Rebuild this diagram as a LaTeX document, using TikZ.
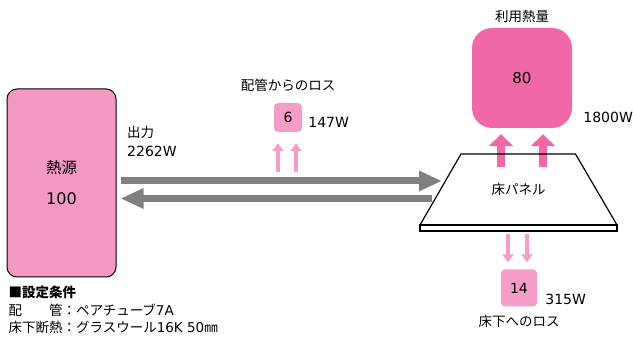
\documentclass[tikz,border=0pt]{standalone}
\usepackage{fontspec}
\setmainfont{Noto Sans CJK JP}
\newfontfamily\numfont{DejaVu Sans}
\usetikzlibrary{arrows.meta,positioning}

\definecolor{srcpink}{HTML}{F49AC2}
\definecolor{usepink}{HTML}{F068A5}
\definecolor{losspink}{HTML}{F59DC6}
\definecolor{flowgray}{HTML}{808080}

\begin{document}
\begin{tikzpicture}[
        x=1pt, y=1pt,
        node distance=4pt and 4pt,
        every node/.style={align=center, font=\fontsize{13.5}{16}\selectfont},
        label/.style={inner sep=1pt},
        num/.style={inner sep=1pt, font=\numfont\fontsize{14}{16}\selectfont},
        lossbox/.style={rounded corners=4pt, fill=losspink, minimum width=28pt, minimum height=29pt, font=\numfont\fontsize{14}{16}\selectfont},
        panelline/.style={line width=1.2pt, line join=miter},
        flow/.style={line width=7pt, draw=flowgray, -{Triangle[length=23pt, width=19pt]}},
        heat/.style={line width=8pt, draw=usepink, -{Triangle[length=12pt, width=24pt]}},
        loss/.style={line width=4pt, draw=losspink, -{Triangle[length=8pt, width=11pt]}}
    ]
  \useasboundingbox (0,0) rectangle (633,338);

  % Nodes
  \node (src) [draw, line width=1pt, rounded corners=10pt, fill=srcpink, minimum width=109pt, minimum height=188pt, font=\fontsize{15.5}{31}\selectfont] at (61.5,155) {熱源\\{\numfont\fontsize{16}{31}\selectfont 100}};
  \node (out) [label, anchor=west, align=left] at (126,197) {出力\\[3pt]{\numfont\fontsize{14}{16}\selectfont 2262W}};

  \node (use) [rounded corners=20pt, fill=usepink, minimum width=100pt, minimum height=100pt, font=\numfont\fontsize{15}{18}\selectfont] at (522,260) {80};
  \node (usetitle) [label, above=3.5pt of use] {利用熱量};
  \node (usewatt) [num, right=10pt of use.south east, anchor=west, yshift=11pt] {1800W};

  % floor panel
  \coordinate (ptl) at (461,184);
  \coordinate (ptr) at (575.5,184);
  \coordinate (pbr) at (617,113);
  \coordinate (pbl) at (420,113);
  \coordinate (sbl) at (420,107);
  \coordinate (pin) at (442,157);
  \coordinate (pout) at (432,139.5);
  \draw[heat] ([xshift=-21pt,yshift=-13pt]use.south |- ptl) -- ([xshift=-21pt,yshift=-6pt]use.south);
  \draw[heat] ([xshift=21pt,yshift=-13pt]use.south |- ptl) -- ([xshift=21pt,yshift=-6pt]use.south);
  \draw[panelline] (ptl) -- (ptr) -- (pbr) -- (pbl) -- cycle;
  \draw[panelline] (pbl) rectangle (pbr |- sbl);
  \node (panel) at (518.5,148.5) {床パネル};

  \node (pipe) [lossbox] at (288,220.5) {6};
  \node (pipetitle) [label, above=10.5pt of pipe] {配管からのロス};
  \node (pipewatt) [num, right=5pt of pipe, yshift=-5pt] {147W};

  \node (floor) [lossbox, minimum width=36pt, minimum height=37pt] at (519,50) {14};
  \node (floorwatt) [num, right=7pt of floor, yshift=-11pt] {315W};
  \node (floortitle) [label, below=7pt of floor] {床下へのロス};

  \node (cond) [anchor=west, align=left, font=\fontsize{13.5}{17.5}\selectfont] at (5,28) {{\bfseries ■設定条件}\\配　　管：ペアチューブ{\numfont 7A}\\床下断熱：グラスウール{\numfont 16K 50}㎜};

  % Connectors
  \draw[flow] ([shift={(4,2)}]src.east) -- (pin);
  \draw[flow] (pout) -- ([shift={(4,-15.5)}]src.east);

  \draw[loss] ([shift={(-10,-40)}]pipe.south) -- ([shift={(-10,-11)}]pipe.south);
  \draw[loss] ([shift={(8,-40)}]pipe.south) -- ([shift={(8,-11)}]pipe.south);

  \draw[loss] ([shift={(-11,-3)}]floor.north |- sbl) -- ([xshift=-11pt,yshift=7pt]floor.north);
  \draw[loss] ([shift={(8,-3)}]floor.north |- sbl) -- ([xshift=8pt,yshift=7pt]floor.north);
\end{tikzpicture}
\end{document}
